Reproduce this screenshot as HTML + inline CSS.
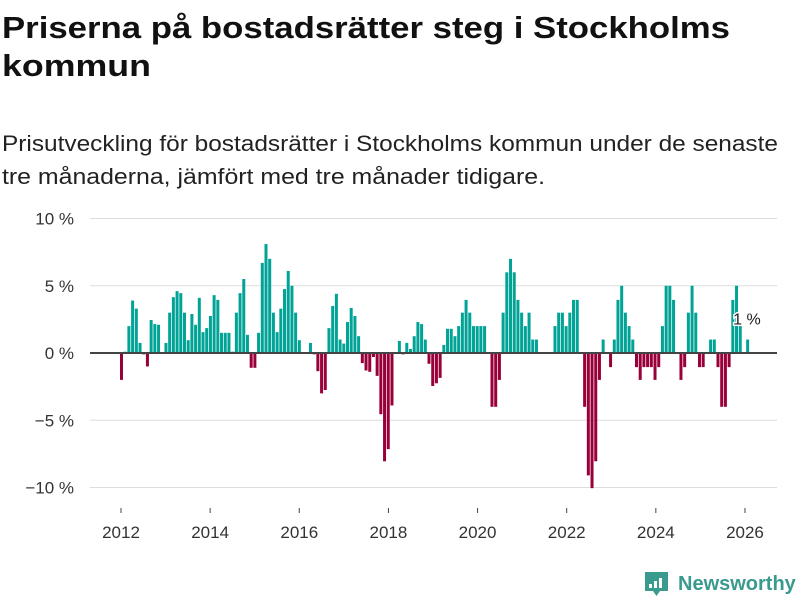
<!DOCTYPE html>
<html><head><meta charset="utf-8"><style>
html,body{margin:0;padding:0;background:#fff;}
body{width:800px;height:600px;overflow:hidden;font-family:"Liberation Sans",sans-serif;}
</style></head><body>
<svg width="800" height="600" xmlns="http://www.w3.org/2000/svg">
<text x="2" y="38" font-size="31" font-weight="bold" fill="#111" textLength="728" lengthAdjust="spacingAndGlyphs" font-family="Liberation Sans, sans-serif">Priserna på bostadsrätter steg i Stockholms</text>
<text x="2" y="76" font-size="31" font-weight="bold" fill="#111" textLength="149" lengthAdjust="spacingAndGlyphs" font-family="Liberation Sans, sans-serif">kommun</text>
<text x="2" y="151" font-size="22" fill="#222" textLength="776" lengthAdjust="spacingAndGlyphs" font-family="Liberation Sans, sans-serif">Prisutveckling för bostadsrätter i Stockholms kommun under de senaste</text>
<text x="2" y="184" font-size="22" fill="#222" textLength="543" lengthAdjust="spacingAndGlyphs" font-family="Liberation Sans, sans-serif">tre månaderna, jämfört med tre månader tidigare.</text>
<g id="grid"></g>
<g id="bars"></g>
<g id="axis"></g>
<g>
<path d="M645 572 h23 v19 h-8 l-3.5 5 l-3.5 -5 h-8 z" fill="#3a9a8e"/>
<rect x="649" y="584" width="3" height="4" fill="#fff"/>
<rect x="654" y="581" width="3" height="7" fill="#fff"/>
<rect x="659" y="578" width="3" height="10" fill="#fff"/>
<text x="678" y="590" font-size="20" font-weight="bold" fill="#3a9a8e" font-family="Liberation Sans, sans-serif">Newsworthy</text>
</g>
</svg>
<script>
const values = [-2.0,0.1,2.0,3.9,3.3,0.75,-0.1,-1.0,2.45,2.15,2.1,0,
0.75,3.0,4.15,4.6,4.45,3.0,0.95,2.9,2.1,4.1,1.55,1.85,
2.75,4.3,3.95,1.5,1.5,1.5,0.1,3.0,4.45,5.5,1.35,-1.1,
-1.1,1.5,6.7,8.1,7.0,3.0,1.55,3.3,4.75,6.1,5.0,3.0,
0.95,0,0,0.75,-0.1,-1.35,-3.0,-2.75,1.85,3.5,4.4,1.0,
0.7,2.3,3.35,2.75,1.25,-0.75,-1.3,-1.4,-0.3,-1.7,-4.55,-8.05,
-7.15,-3.9,0,0.9,-0.1,0.75,0.3,1.25,2.3,2.15,1.0,-0.8,
-2.45,-2.25,-1.85,0.6,1.8,1.8,1.25,2.0,3.0,3.95,3.0,2.0,
2.0,2.0,2.0,0,-4.0,-4.0,-2.0,3.0,6.0,7.0,6.0,3.95,
3.0,2.0,3.0,1.0,1.0,0,0,0,0,2.0,3.0,3.0,
2.0,3.0,3.95,3.95,0,-4.0,-9.1,-10.05,-8.05,-2.0,1.0,0,
-1.05,1.0,3.95,5.0,3.0,2.0,1.0,-1.05,-2.0,-1.05,-1.05,-1.05,
-2.0,-1.05,2.0,5.0,5.0,3.95,0,-2.0,-1.05,3.0,5.0,3.0,
-1.05,-1.05,0,1.0,1.0,-1.05,-4.0,-4.0,-1.05,3.95,5.0,2.0,
0,1.0];
const startYear = 2012;
const yTicks = [10,5,0,-5,-10];
const yTickLabels = ["10 %","5 %","0 %","\u22125 %","\u221210 %"];
const xTickYears = [2012,2014,2016,2018,2020,2022,2024,2026];
const lastLabel = "1 %";

const NS="http://www.w3.org/2000/svg";
const y0=353, pxPer=13.45;
function yScale(v){return y0 - v*pxPer;}
function xBar(i){return 120 + i*3.705;}
function xYear(yr){return 121 + (yr-2012)*44.57;}
function mk(tag,attrs,parent){const e=document.createElementNS(NS,tag);for(const k in attrs)e.setAttribute(k,attrs[k]);parent.appendChild(e);return e;}
const grid=document.getElementById('grid'), bars=document.getElementById('bars'), axis=document.getElementById('axis');
yTicks.forEach((t,i)=>{
  if(t!==0){const l=mk('line',{x1:90,x2:777,y1:yScale(t),y2:yScale(t),stroke:'#dedede','stroke-width':1},grid);
  
  }
  const tx=mk('text',{x:74,y:yScale(t)+6,'text-anchor':'end','font-size':17,fill:'#333','font-family':'Liberation Sans, sans-serif'},axis);
  tx.textContent=yTickLabels[i];
  
  
});
values.forEach((v,i)=>{
  if(v===0)return;
  const top=v>0?yScale(v):y0;
  const r=mk('rect',{x:xBar(i),y:top,width:3,height:Math.abs(v)*pxPer,fill:v>0?'#00a396':'#99003a'},bars);
  
  
});
const zl=mk('line',{x1:90,x2:777,y1:y0,y2:y0,stroke:'#444','stroke-width':2},axis);


xTickYears.forEach(yr=>{
  const x=xYear(yr);
  const tk=mk('line',{x1:x,x2:x,y1:508,y2:513,stroke:'#444','stroke-width':1},axis);
  
  
  const tx=mk('text',{x:x,y:538,'text-anchor':'middle','font-size':17,fill:'#333','font-family':'Liberation Sans, sans-serif'},axis);
  tx.textContent=String(yr);
  
  
});
const li=values.length-1;
const lb=mk('text',{x:xBar(li)-13,y:yScale(values[li])-15,'font-size':16,fill:'#222',stroke:'#fff','stroke-width':3,'paint-order':'stroke','font-family':'Liberation Sans, sans-serif'},axis);
lb.textContent=lastLabel;


</script>
</body></html>
